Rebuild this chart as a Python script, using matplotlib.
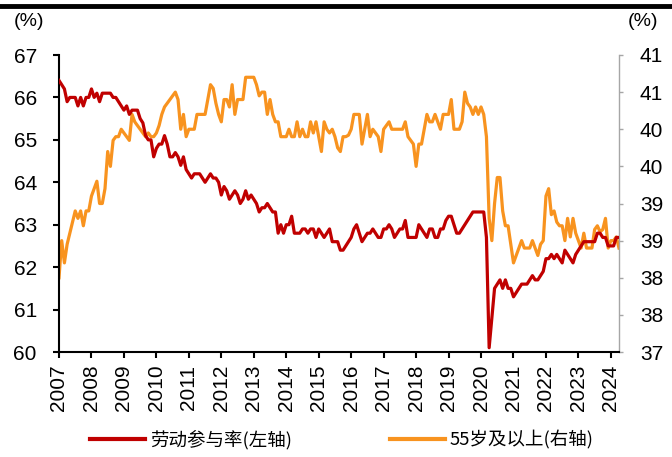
import matplotlib
matplotlib.use("Agg")
import matplotlib.pyplot as plt
from matplotlib.lines import Line2D
import numpy as np

# monthly, Jan 2007 - Apr 2024
lfpr = [
    66.4, 66.3, 66.2, 65.9, 66.0, 66.0, 66.0, 65.8, 66.0, 65.8, 66.0, 66.0,  # 2007
    66.2, 66.0, 66.1, 65.9, 66.1, 66.1, 66.1, 66.1, 66.0, 66.0, 65.9, 65.8,  # 2008
    65.7, 65.8, 65.6, 65.7, 65.7, 65.7, 65.5, 65.4, 65.1, 65.0, 65.0, 64.6,  # 2009
    64.8, 64.9, 64.9, 65.1, 64.9, 64.6, 64.6, 64.7, 64.6, 64.4, 64.6, 64.3,  # 2010
    64.2, 64.1, 64.2, 64.2, 64.2, 64.1, 64.0, 64.1, 64.2, 64.1, 64.1, 64.0,  # 2011
    63.7, 63.9, 63.8, 63.6, 63.7, 63.8, 63.7, 63.5, 63.6, 63.8, 63.6, 63.7,  # 2012
    63.6, 63.5, 63.3, 63.4, 63.4, 63.5, 63.4, 63.3, 63.3, 62.8, 63.0, 62.8,  # 2013
    63.0, 63.0, 63.2, 62.8, 62.8, 62.8, 62.9, 62.9, 62.8, 62.9, 62.9, 62.7,  # 2014
    62.9, 62.8, 62.7, 62.8, 62.9, 62.6, 62.6, 62.6, 62.4, 62.4, 62.5, 62.6,  # 2015
    62.7, 62.9, 63.0, 62.8, 62.6, 62.7, 62.8, 62.8, 62.9, 62.8, 62.7, 62.7,  # 2016
    62.9, 62.9, 63.0, 62.9, 62.7, 62.8, 62.9, 62.9, 63.1, 62.7, 62.7, 62.7,  # 2017
    62.7, 63.0, 62.9, 62.8, 62.7, 62.9, 62.9, 62.7, 62.7, 62.9, 62.9, 63.1,  # 2018
    63.2, 63.2, 63.0, 62.8, 62.8, 62.9, 63.0, 63.1, 63.2, 63.3, 63.3, 63.3,  # 2019
    63.3, 63.3, 62.7, 60.1, 60.8, 61.5, 61.6, 61.7, 61.5, 61.7, 61.5, 61.5,  # 2020
    61.3, 61.4, 61.5, 61.6, 61.6, 61.6, 61.7, 61.8, 61.7, 61.7, 61.8, 61.9,  # 2021
    62.2, 62.2, 62.3, 62.2, 62.3, 62.2, 62.1, 62.4, 62.3, 62.2, 62.1, 62.3,  # 2022
    62.4, 62.5, 62.6, 62.6, 62.6, 62.6, 62.6, 62.8, 62.8, 62.7, 62.7, 62.5,  # 2023
    62.5, 62.5, 62.7, 62.7,                                                  # 2024
]

age55 = [
    38.0, 38.5, 38.2, 38.45, 38.6, 38.75, 38.9, 38.8, 38.9, 38.7, 38.9, 38.9,   # 2007
    39.1, 39.2, 39.3, 39.0, 39.0, 39.2, 39.7, 39.5, 39.85, 39.9, 39.9, 40.0,   # 2008
    39.95, 39.9, 39.85, 40.2, 40.1, 40.05, 40.0, 39.95, 39.9, 39.95, 39.9, 39.9,  # 2009
    39.95, 40.05, 40.2, 40.3, 40.35, 40.4, 40.45, 40.5, 40.4, 40.0, 40.2, 39.9,  # 2010
    40.0, 40.0, 40.0, 40.2, 40.2, 40.2, 40.2, 40.4, 40.6, 40.55, 40.35, 40.2,  # 2011
    40.1, 40.4, 40.4, 40.3, 40.6, 40.2, 40.4, 40.4, 40.4, 40.7, 40.7, 40.7,   # 2012
    40.7, 40.6, 40.45, 40.5, 40.5, 40.2, 40.4, 40.2, 40.1, 40.1, 39.9, 39.9,  # 2013
    39.9, 40.0, 39.9, 39.9, 40.1, 39.9, 40.0, 39.9, 39.9, 40.1, 39.95, 40.1,  # 2014
    39.9, 39.7, 40.1, 40.0, 39.95, 40.0, 39.9, 39.75, 39.7, 39.9, 39.9, 39.92,  # 2015
    40.0, 40.2, 40.2, 40.2, 39.8, 40.0, 40.2, 39.9, 40.0, 39.95, 39.9, 39.7,  # 2016
    40.0, 40.05, 40.1, 40.0, 40.0, 40.0, 40.0, 40.0, 40.1, 39.9, 39.85, 39.8,  # 2017
    39.5, 39.8, 39.8, 40.0, 40.2, 40.1, 40.1, 40.2, 40.1, 40.0, 40.2, 40.2,   # 2018
    40.2, 40.4, 40.0, 40.0, 40.0, 40.1, 40.5, 40.35, 40.3, 40.2, 40.3, 40.2,  # 2019
    40.3, 40.2, 39.9, 38.8, 38.5, 39.0, 39.35, 39.35, 38.9, 38.7, 38.7, 38.45,  # 2020
    38.2, 38.3, 38.4, 38.5, 38.4, 38.4, 38.4, 38.5, 38.4, 38.3, 38.45, 38.5,  # 2021
    39.1, 39.2, 38.85, 38.9, 38.75, 38.7, 38.7, 38.5, 38.8, 38.55, 38.8, 38.6,  # 2022
    38.5, 38.4, 38.6, 38.4, 38.4, 38.4, 38.65, 38.7, 38.62, 38.65, 38.8, 38.4,  # 2023
    38.5, 38.5, 38.55, 38.4,                                                    # 2024
]

years = [str(y) for y in range(2007, 2025)]
left_ticks = [60, 61, 62, 63, 64, 65, 66, 67]
right_ticks = [37, 37.5, 38, 38.5, 39, 39.5, 40, 40.5, 41]
right_labels = ["37", "38", "38", "39", "39", "40", "40", "41", "41"]

red = "#C00000"
orange = "#F8931F"

plt.rcParams["font.family"] = ["Liberation Sans", "DejaVu Sans"]

fig = plt.figure(figsize=(6.72, 4.57), dpi=100)
ax = fig.add_axes([59 / 672, 1 - 352 / 457, 560 / 672, 297 / 457])
ax2 = ax.twinx()

x = np.arange(len(lfpr))
ax.plot(x, lfpr, color=red, lw=2.3, solid_joinstyle="round", zorder=3)
ax2.plot(x, age55, color=orange, lw=2.3, solid_joinstyle="round")
ax.set_zorder(ax2.get_zorder() + 1)
ax.patch.set_visible(False)

ax.set_xlim(0, len(lfpr) - 1)
ax.set_ylim(60, 67)
ax2.set_ylim(37, 41)

ax.set_xticks(np.arange(0, len(lfpr), 12))
ax.set_xticklabels(years, rotation=90, fontsize=15)
ax.set_yticks(left_ticks)
ax.set_yticklabels([str(v) for v in left_ticks], fontsize=15)
ax2.set_yticks(right_ticks)
ax2.set_yticklabels(right_labels, fontsize=15)

for s in ["top", "right"]:
    ax.spines[s].set_visible(False)
for s in ["top", "left", "bottom"]:
    ax2.spines[s].set_visible(False)
ax.spines["left"].set_linewidth(1.5)
ax.spines["bottom"].set_linewidth(1.5)
ax2.spines["right"].set_color("#A6A6A6")
ax2.spines["right"].set_linewidth(1.0)

ax.tick_params(axis="y", direction="out", length=4, width=1.5, pad=12)
ax.tick_params(axis="x", direction="out", length=4, width=1.5, pad=5)
ax2.tick_params(axis="y", direction="out", length=3, width=1.0, color="#A6A6A6", pad=12)

fig.text(14 / 672, 1 - 22 / 457, "(%)", fontsize=14, ha="left", va="center")
fig.text(658 / 672, 1 - 22 / 457, "(%)", fontsize=14, ha="right", va="center")

# thick rule across the top
fig.add_artist(Line2D([0, 1], [1 - 6 / 457, 1 - 6 / 457], color="black", lw=3.5,
                      transform=fig.transFigure))

cjk = {"family": ["Noto Sans CJK SC", "DejaVu Sans"], "size": 13.3}
leg_y = 1 - 440 / 457
for color, label, x0 in [(red, "劳动参与率(左轴)", 90), (orange, "55岁及以上(右轴)", 390)]:
    fig.legend([Line2D([], [], color=color, lw=3)], [label], loc="center left",
               bbox_to_anchor=(x0 / 672, leg_y), frameon=False, prop=cjk,
               borderpad=0, borderaxespad=0, handlelength=3.0, handletextpad=0.25)

fig.savefig("out.png", dpi=100)
